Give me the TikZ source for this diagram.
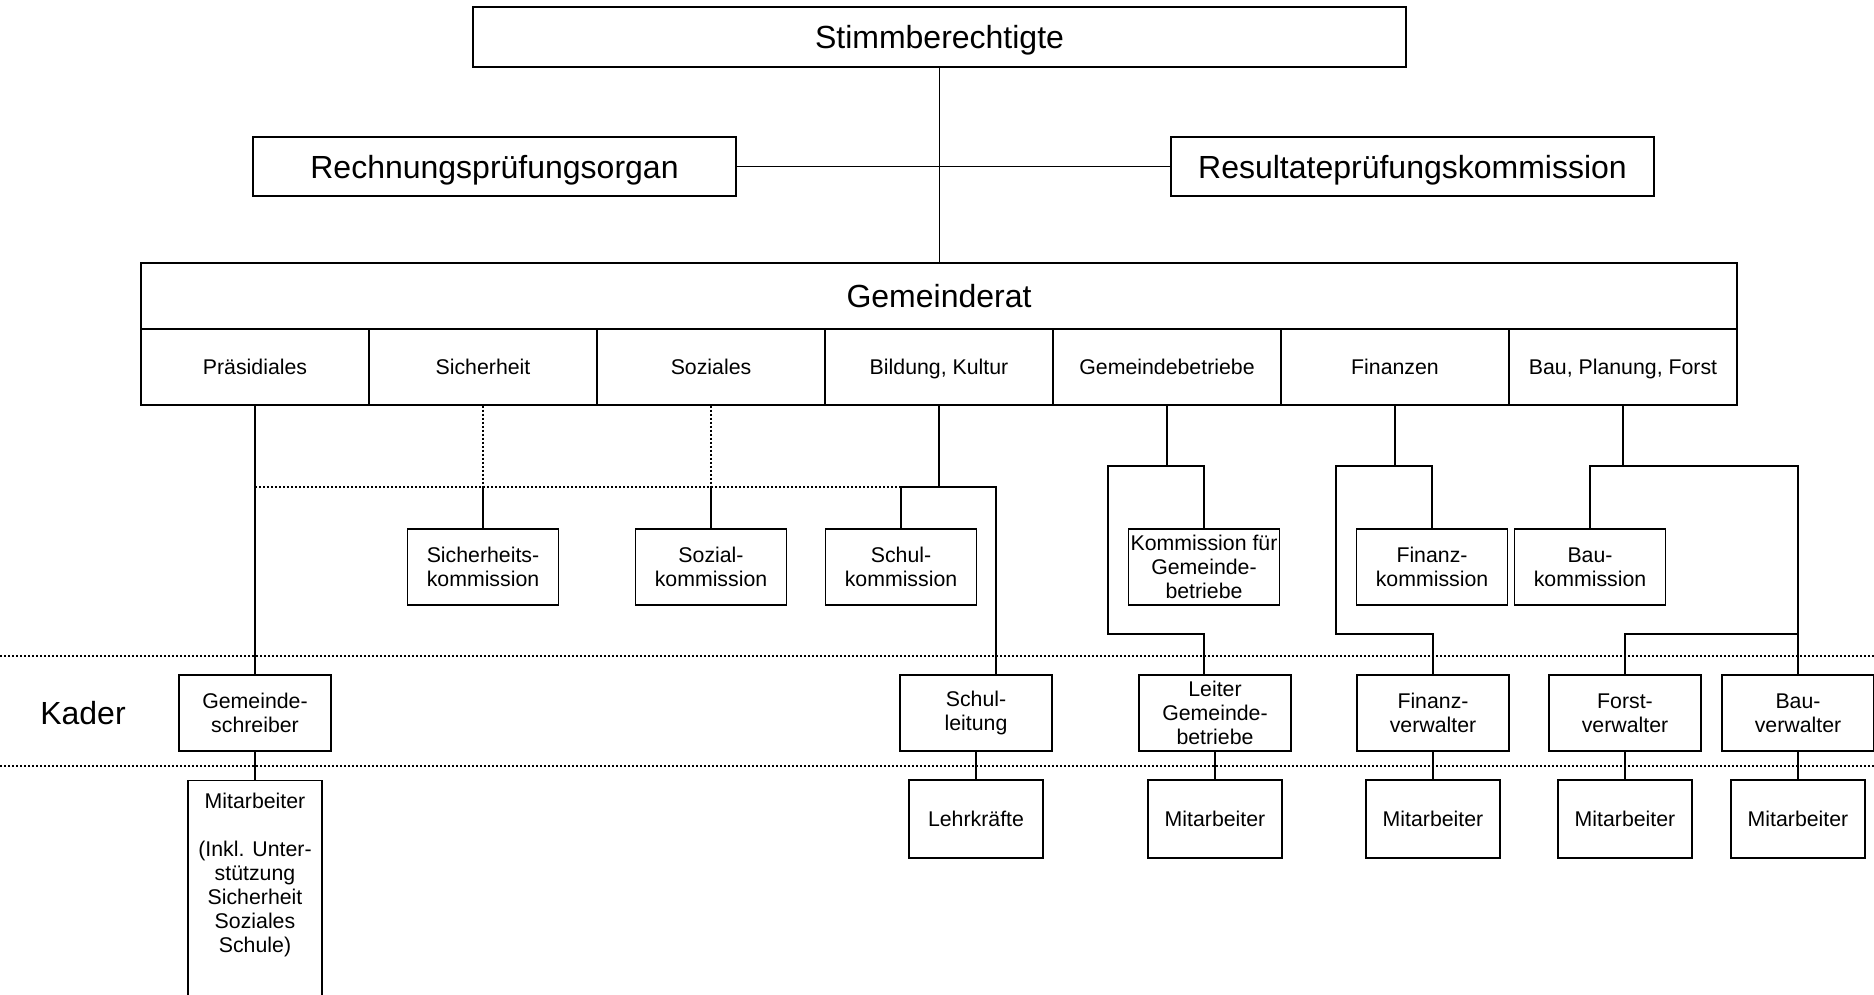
\documentclass[tikz,border=0pt]{standalone}
\usepackage{fontspec}
\setmainfont{Liberation Sans}
\usetikzlibrary{calc}

\begin{document}
\begin{tikzpicture}[
    x=0.5pt, y=-0.5pt,
    line width=0.6pt,
    kasten/.style={rectangle, draw, line width=0.6pt, inner sep=0pt, align=center,
    font=\fontsize{10.65}{12}\selectfont, minimum width=75.5pt, minimum height=38pt},
    gross/.style={kasten, font=\fontsize{16}{19}\selectfont, text height=11.5pt, text depth=0pt},
    feld/.style={kasten, minimum width=114pt, text height=7.6pt, text depth=0pt},
    leitung/.style={kasten, minimum width=76pt},
    mitarb/.style={kasten, minimum width=67pt, minimum height=39pt, text height=7.6pt, text depth=0pt},
    schrift/.style={font=\fontsize{16}{19}\selectfont},
    punktiert/.style={line width=0.6pt, dash pattern=on 1pt off 1pt}
    ]

\useasboundingbox (0,0) rectangle (1874,995);

%Oberste Ebene
\node[gross, minimum width=466.5pt, minimum height=30pt] (stimm) at (939.5,37) {Stimmberechtigte};
\node[gross, minimum width=241.5pt, minimum height=29.5pt] (rpo) at (494.5,166.5) {Rechnungsprüfungsorgan};
\node[gross, minimum width=241.5pt, minimum height=29.5pt] (rpk) at (1412.5,166.5) {Resultateprüfungskommission};
\node[gross, minimum width=798pt, minimum height=33pt] (grat) at (939,296) {Gemeinderat};

%Ressorts
\node[feld] (praes) at (255,367) {Präsidiales};
\node[feld] (sich) at (483,367) {Sicherheit};
\node[feld] (soz) at (711,367) {Soziales};
\node[feld] (bild) at (939,367) {Bildung, Kultur};
\node[feld] (gbetr) at (1167,367) {Gemeindebetriebe};
\node[feld] (fin) at (1395,367) {Finanzen};
\node[feld] (bau) at (1623,367) {Bau, Planung, Forst};

%Kommissionen
\node[kasten] (sichk) at (483,567) {Sicherheits-\\kommission};
\node[kasten] (sozk) at (711,567) {Sozial-\\kommission};
\node[kasten] (schulk) at (901,567) {Schul-\\kommission};
\node[kasten] (gbk) at (1204,567) {Kommission für\\Gemeinde-\\betriebe};
\node[kasten] (fink) at (1432,567) {Finanz-\\kommission};
\node[kasten] (bauk) at (1590,567) {Bau-\\kommission};

%Kader
\node[schrift] (kader) at (83,713) {Kader};
\node[leitung] (gschr) at (255,713) {Gemeinde-\\schreiber};
\node[leitung] (schull) at (976,713) {Schul-\\leitung};
\node[leitung] (leiter) at (1215,713) {Leiter\\Gemeinde-\\betriebe};
\node[leitung] (finv) at (1433,713) {Finanz-\\verwalter};
\node[leitung] (forstv) at (1625,713) {Forst-\\verwalter};
\node[leitung] (bauv) at (1798,713) {Bau-\\verwalter};

%Mitarbeiter
\node[draw, line width=0.6pt, inner sep=0pt, minimum width=67pt, minimum height=120pt, anchor=north] (mitp) at (255,780) {};
\node[kasten, draw=none, minimum height=0pt, anchor=north] (mitptxt) at ($(mitp.north)+(0,12)$)
    {Mitarbeiter\\[12pt](Inkl. Unter-\\stützung\\Sicherheit\\Soziales\\Schule)};
\node[mitarb] (lehr) at (976,819) {Lehrkräfte};
\node[mitarb] (mitg) at (1215,819) {Mitarbeiter};
\node[mitarb] (mitf) at (1433,819) {Mitarbeiter};
\node[mitarb] (mitfo) at (1625,819) {Mitarbeiter};
\node[mitarb] (mitb) at (1798,819) {Mitarbeiter};

%Kaderlinien
\draw[punktiert] (0,656) -- (1874,656);
\draw[punktiert] (0,766) -- (1874,766);

\coordinate (dl) at (255,487);
\coordinate (bir) at (996,487);
\coordinate (gb) at (1167,466);
\coordinate (gbl) at (1108,634);
\coordinate (fi) at (1395,466);
\coordinate (fil) at (1336,634);
\coordinate (ba) at (1623,466);

%Verbindungen oben
\draw (stimm.south) -- (stimm.south |- grat.north);
\draw (rpo.east) -- (rpk.west);
\draw (praes.south) -- (gschr.north);

%Praesidiales, Sicherheit, Soziales
\draw[punktiert] (dl) -- (dl -| schulk.north);
\draw[punktiert] (sich.south) -- (sich.south |- dl);
\draw (sich.south |- dl) -- (sichk.north);
\draw[punktiert] (soz.south) -- (soz.south |- dl);
\draw (soz.south |- dl) -- (sozk.north);

%Bildung
\draw (bild.south) -- (bild.south |- dl);
\draw (schulk.north) |- (bir) -- (bir |- schull.north);

%Gemeindebetriebe
\draw (gbetr.south) -- (gb) -| (gbk.north);
\draw (gb) -| (gbl) -| ($(leiter.north)+(-11,0)$);

%Finanzen
\draw (fin.south) -- (fi) -| (fink.north);
\draw (fi) -| (fil) -| (finv.north);

%Bau
\draw (bau.south) -- (ba) -| (bauk.north);
\draw (ba) -| (bauv.north);
\draw (forstv.north) |- (bauv.north |- fil);

%Verbindungen unten
\draw (gschr.south) -- (mitp.north);
\draw (schull.south) -- (lehr.north);
\draw (leiter.south) -- (mitg.north);
\draw (finv.south) -- (mitf.north);
\draw (forstv.south) -- (mitfo.north);
\draw (bauv.south) -- (mitb.north);
\end{tikzpicture}
\end{document}
